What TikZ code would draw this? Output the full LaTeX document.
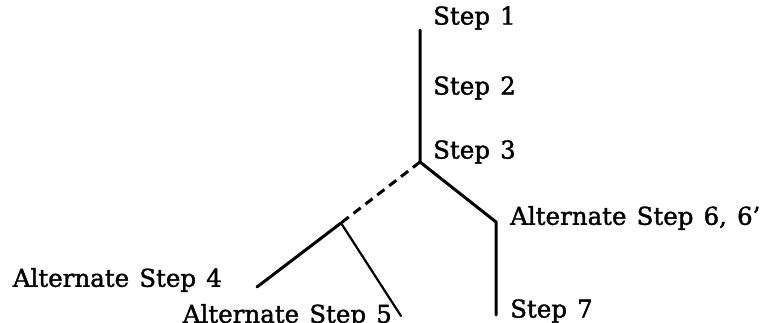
\documentclass[tikz,border=0pt]{standalone}
\usepackage{fontspec}
\setmainfont{DejaVu Serif}[WordSpace=1.3,FakeBold=1.5]
\begin{document}
\begin{tikzpicture}[x=1pt,y=-1pt,
  branch/.style={line width=3pt,line cap=round},
  thin branch/.style={line width=2.2pt,line cap=round},
  alt/.style={line width=3pt,dash pattern=on 9pt off 6pt},
  lbl/.style={font=\fontsize{24.5}{28}\selectfont,inner sep=0pt}]
\useasboundingbox (0,0) rectangle (772,323);
% points of the tree
\coordinate (top) at (420,30);
\coordinate (j1) at (420,162);
\coordinate (k6) at (496,222);
\coordinate (e7) at (496,315);
\coordinate (j2) at (341,223);
\coordinate (e4) at (257,287);
\coordinate (e5) at (401,316);
% labels
\node[lbl,anchor=west] (s1) at (433,18) {Step 1};
\node[lbl,anchor=west] (s2) at (433,88) {Step 2};
\node[lbl,anchor=west] (s3) at (433,152) {Step 3};
\node[lbl,anchor=west] (s6) at (510,218) {Alternate Step 6, 6'};
\node[lbl,anchor=west] (s7) at (510,311) {Step 7};
\node[lbl,anchor=east] (s4) at (222,280) {Alternate Step 4};
\node[lbl,anchor=east] (s5) at (392,316) {Alternate Step 5};
% branches
\draw[branch] (top) -- (j1) -- (k6) -- (e7);
\draw[alt] (j1) -- (j2);
\draw[branch] (j2) -- (e4);
\draw[thin branch] (j2) -- (e5);
\end{tikzpicture}
\end{document}
